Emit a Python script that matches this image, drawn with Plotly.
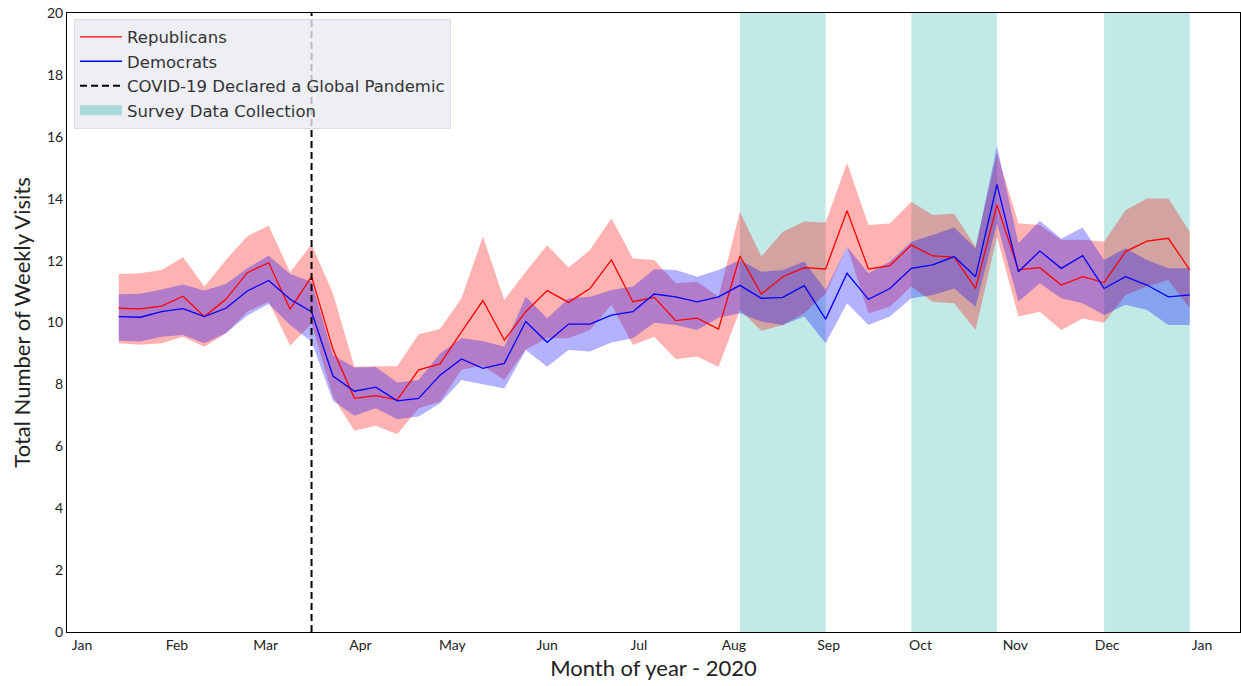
import pandas as pd
import plotly.graph_objects as go

# Weekly series (Mondays), 2020-01-13 .. 2020-12-28
weeks = pd.date_range("2020-01-13", periods=51, freq="7D")

rep_mean = [10.46, 10.44, 10.53, 10.85, 10.19, 10.75, 11.61, 11.93, 10.43, 11.48,
            9.13, 7.55, 7.64, 7.50, 8.47, 8.66, 9.70, 10.71, 9.43, 10.35,
            11.03, 10.65, 11.10, 12.02, 10.67, 10.81, 10.06, 10.14, 9.79, 12.15,
            10.92, 11.48, 11.77, 11.73, 13.61, 11.73, 11.84, 12.50, 12.15, 12.11,
            11.10, 13.80, 11.70, 11.77, 11.21, 11.48, 11.29, 12.29, 12.63, 12.72,
            11.70]
rep_low = [9.33, 9.28, 9.33, 9.54, 9.22, 9.65, 10.35, 10.67, 9.25, 9.97,
           7.60, 6.50, 6.66, 6.39, 7.23, 7.44, 8.47, 8.60, 8.14, 9.13,
           9.49, 9.49, 9.76, 10.57, 9.27, 9.54, 8.81, 8.90, 8.57, 10.40,
           9.73, 9.92, 10.30, 10.94, 12.45, 10.30, 10.51, 11.16, 10.67, 10.62,
           9.76, 12.77, 10.19, 10.35, 9.76, 10.13, 9.99, 10.89, 11.16, 11.37,
           10.46]
rep_high = [11.57, 11.59, 11.70, 12.11, 11.16, 12.02, 12.79, 13.13, 11.62, 12.53,
            10.94, 8.57, 8.59, 8.59, 9.62, 9.79, 10.78, 12.78, 10.73, 11.64,
            12.50, 11.78, 12.34, 13.37, 12.07, 12.02, 11.27, 11.32, 10.83, 13.58,
            12.13, 12.93, 13.26, 13.23, 15.16, 13.15, 13.20, 13.90, 13.47, 13.51,
            12.45, 15.47, 13.21, 13.15, 12.67, 12.67, 12.61, 13.63, 14.01, 14.01,
            12.93]

dem_mean = [10.19, 10.17, 10.35, 10.45, 10.19, 10.46, 11.02, 11.36, 10.75, 10.35,
            8.27, 7.78, 7.91, 7.47, 7.55, 8.30, 8.82, 8.52, 8.68, 10.03,
            9.36, 9.95, 9.95, 10.24, 10.35, 10.92, 10.83, 10.67, 10.83, 11.20,
            10.78, 10.81, 11.19, 10.11, 11.59, 10.75, 11.10, 11.75, 11.86, 12.13,
            11.48, 14.46, 11.64, 12.31, 11.75, 12.16, 11.10, 11.48, 11.21, 10.83,
            10.89]
dem_low = [9.41, 9.39, 9.54, 9.60, 9.33, 9.65, 10.23, 10.60, 9.92, 9.38,
           7.47, 6.99, 7.23, 6.87, 6.96, 7.39, 8.14, 8.00, 7.87, 9.11,
           8.57, 9.11, 9.06, 9.35, 9.49, 9.99, 9.92, 9.76, 10.15, 10.30,
           10.03, 9.92, 10.19, 9.33, 10.62, 9.92, 10.19, 10.78, 10.89, 11.10,
           10.51, 13.21, 10.67, 11.27, 10.78, 10.62, 10.24, 10.57, 10.40, 9.92,
           9.92]
dem_high = [10.91, 10.93, 11.07, 11.23, 11.03, 11.24, 11.75, 12.16, 11.57, 11.32,
            8.95, 8.55, 8.56, 8.06, 8.14, 9.00, 9.49, 9.40, 9.22, 10.83,
            10.14, 10.78, 10.83, 11.05, 11.16, 11.72, 11.70, 11.48, 11.70, 12.02,
            11.64, 11.70, 11.97, 11.05, 12.45, 11.59, 11.97, 12.61, 12.83, 13.07,
            12.40, 15.70, 12.56, 13.29, 12.71, 13.07, 12.02, 12.40, 12.02, 11.75,
            11.75]

pandemic_date = "2020-03-16"
survey_start = ["2020-08-03", "2020-09-28", "2020-11-30"]
survey_end = ["2020-08-31", "2020-10-26", "2020-12-28"]

month_ticks = pd.date_range("2020-01-01", "2021-01-01", freq="MS")
month_labels = ["Jan", "Feb", "Mar", "Apr", "May", "Jun", "Jul",
                "Aug", "Sep", "Oct", "Nov", "Dec", "Jan"]

RED = "#ff0000"
BLUE = "#0000ff"
RED_BAND = "rgba(255,0,0,0.3)"
BLUE_BAND = "rgba(0,0,255,0.3)"
TEAL = "rgba(32,178,170,0.28)"

fig = go.Figure()

# confidence bands
fig.add_trace(go.Scatter(x=weeks, y=rep_high, mode="lines", line=dict(width=0),
                         showlegend=False, hoverinfo="skip"))
fig.add_trace(go.Scatter(x=weeks, y=rep_low, mode="lines", line=dict(width=0),
                         fill="tonexty", fillcolor=RED_BAND,
                         showlegend=False, hoverinfo="skip"))
fig.add_trace(go.Scatter(x=weeks, y=dem_high, mode="lines", line=dict(width=0),
                         showlegend=False, hoverinfo="skip"))
fig.add_trace(go.Scatter(x=weeks, y=dem_low, mode="lines", line=dict(width=0),
                         fill="tonexty", fillcolor=BLUE_BAND,
                         showlegend=False, hoverinfo="skip"))

# mean lines
fig.add_trace(go.Scatter(x=weeks, y=rep_mean, mode="lines", name="Republicans",
                         line=dict(color=RED, width=1.3)))
fig.add_trace(go.Scatter(x=weeks, y=dem_mean, mode="lines", name="Democrats",
                         line=dict(color=BLUE, width=1.3)))

# legend-only entries
fig.add_trace(go.Scatter(x=[None], y=[None], mode="lines",
                         name="COVID-19 Declared a Global Pandemic",
                         line=dict(color="black", width=2, dash="7px,4px")))
fig.add_trace(go.Scatter(x=[None], y=[None], mode="lines",
                         name="Survey Data Collection",
                         line=dict(color="rgba(32,178,170,0.32)", width=13)))

shapes = []
for s, e in zip(survey_start, survey_end):
    shapes.append(dict(type="rect", xref="x", yref="paper", x0=s, x1=e, y0=0, y1=1,
                       fillcolor=TEAL, line=dict(width=0), layer="below"))
shapes.append(dict(type="line", xref="x", yref="paper", x0=pandemic_date,
                   x1=pandemic_date, y0=0, y1=1,
                   line=dict(color="black", width=2, dash="7px,4px"), layer="above"))

fig.update_layout(
    width=1241, height=686,
    margin=dict(l=67, r=1, t=13, b=54),
    plot_bgcolor="white", paper_bgcolor="white",
    shapes=shapes,
    showlegend=True,
    legend=dict(x=0.006, y=0.991, xanchor="left", yanchor="top",
                traceorder="normal",
                bgcolor="rgba(234,234,242,0.8)", bordercolor="rgba(220,220,225,1)",
                borderwidth=1,
                font=dict(family="DejaVu Sans", size=16.5, color="#333333"),
                tracegroupgap=0, itemwidth=42),
    xaxis=dict(range=["2019-12-27 02:00", "2021-01-13 10:00"],
               tickvals=month_ticks, ticktext=month_labels,
               showgrid=False, zeroline=False, ticks="",
               showline=True, linecolor="black", linewidth=1, mirror=True,
               tickfont=dict(family="Lato", size=14, color="#222222"),
               title=dict(text="Month of year - 2020",
                          font=dict(family="Lato", size=22, color="#222222"),
                          standoff=8)),
    yaxis=dict(range=[0, 20], tickvals=list(range(0, 21, 2)),
               showgrid=False, zeroline=False, ticks="",
               showline=True, linecolor="black", linewidth=1, mirror=True,
               tickfont=dict(family="Lato", size=14, color="#222222"),
               title=dict(text="Total Number of Weekly Visits",
                          font=dict(family="Lato", size=22, color="#222222"),
                          standoff=10)),
)

fig.write_html("out.html")
